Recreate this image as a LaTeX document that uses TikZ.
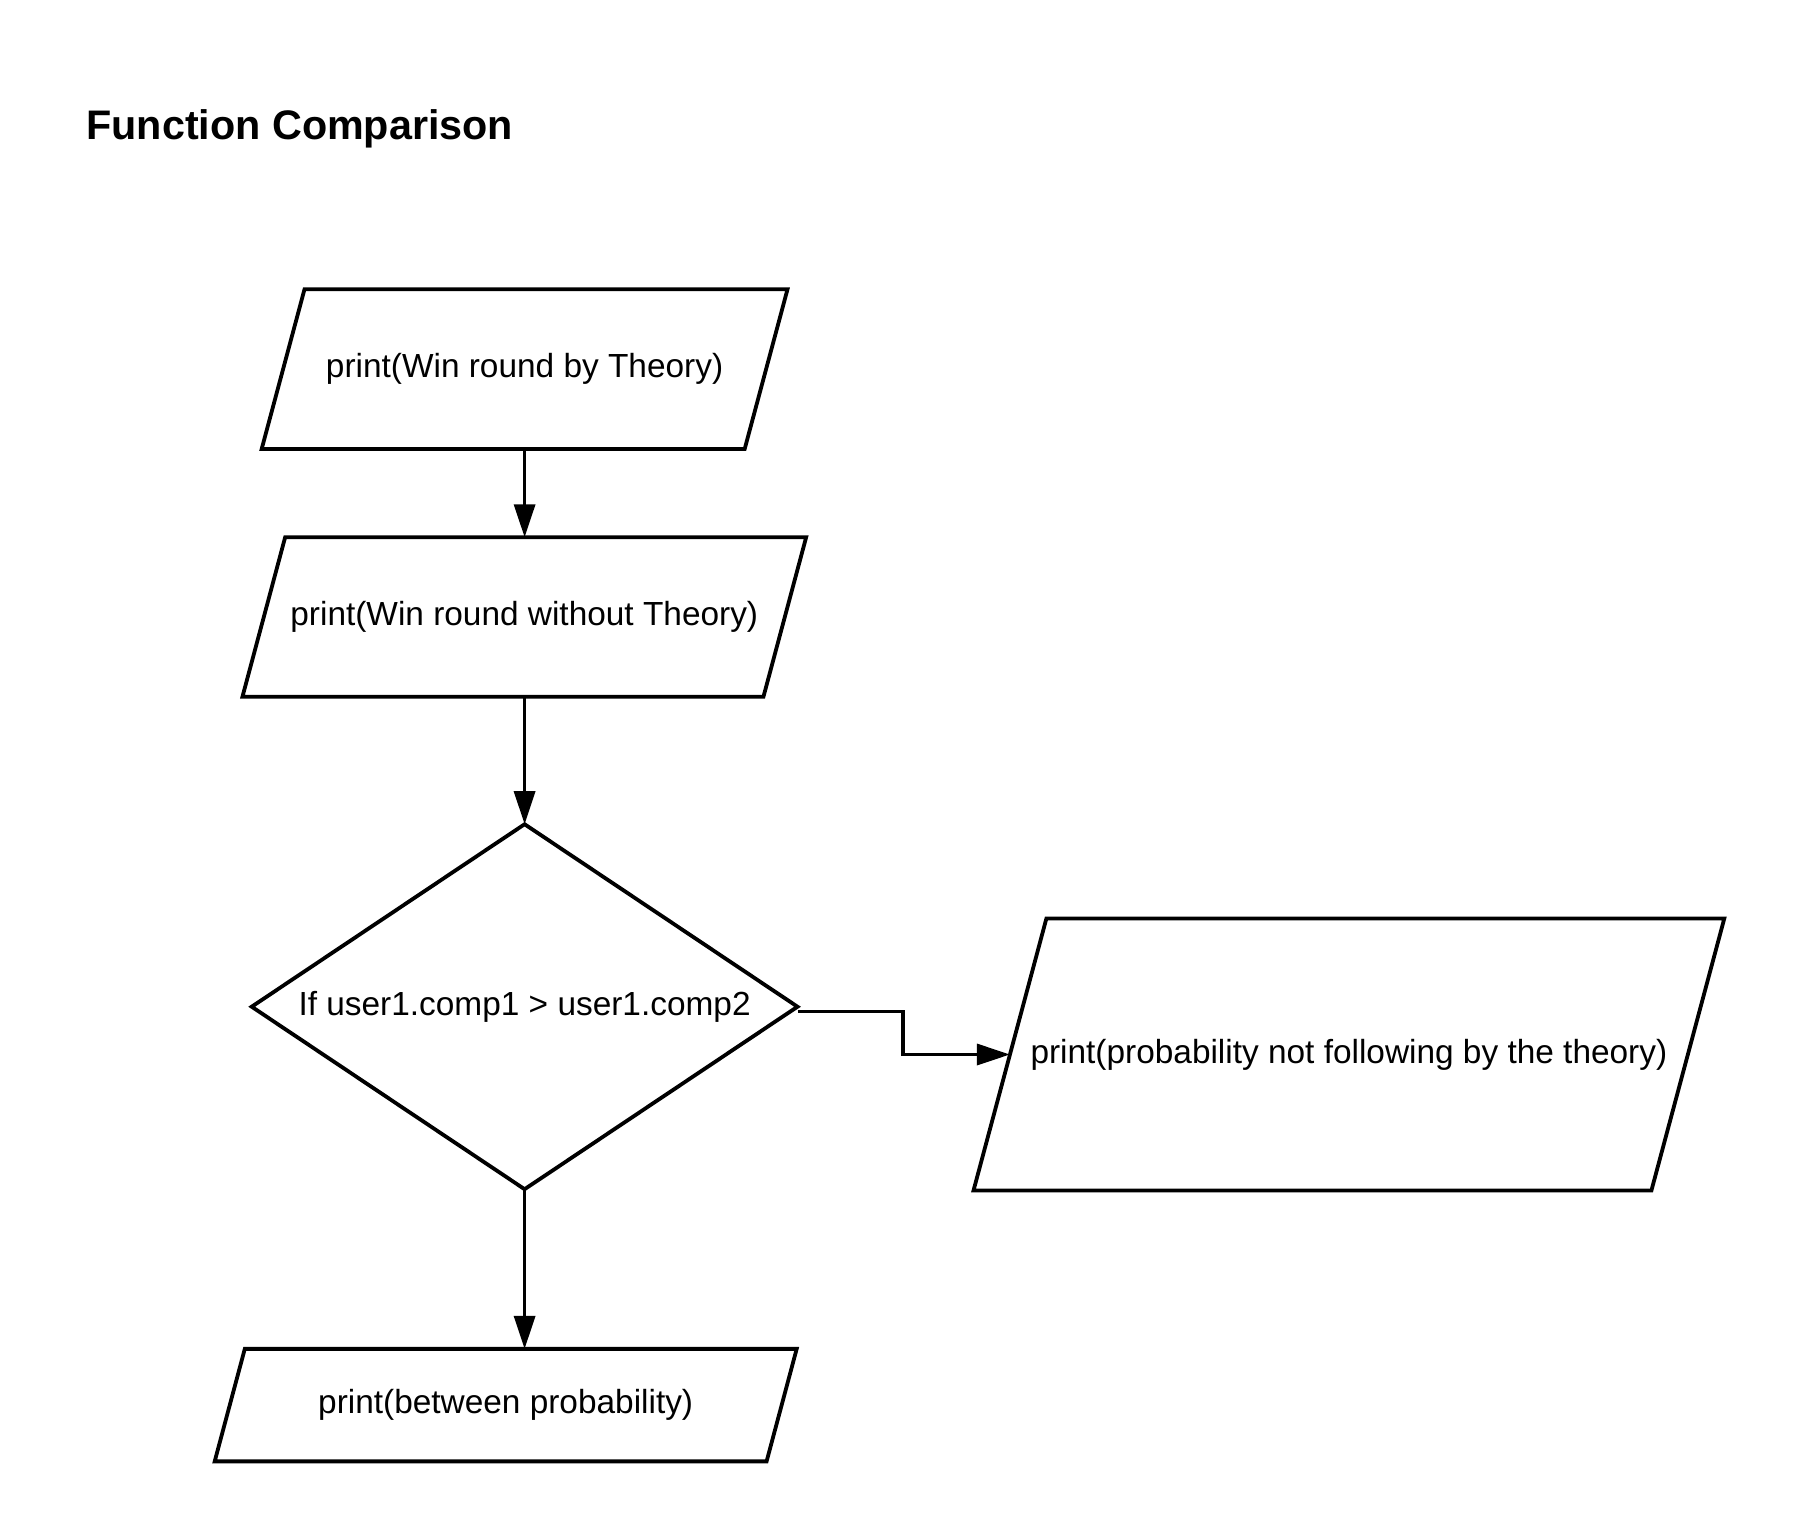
\documentclass[tikz,border=0pt]{standalone}
\usepackage{fontspec}
\setmainfont{Liberation Sans}
\usetikzlibrary{arrows.meta,shapes.geometric}
\begin{document}
\begin{tikzpicture}[x=0.5pt,y=-0.5pt,
  shapeline/.style={draw=black,line width=1.9pt,line join=miter},
  iobox/.style={rectangle,inner sep=0pt,outer sep=0pt,draw=none,
    font=\fontsize{16.7pt}{20pt}\selectfont},
  decision/.style={diamond,aspect=1.495,draw=black,line width=1.9pt,inner sep=0pt,outer sep=0pt,
    minimum width=272.9pt,minimum height=182.5pt,
    font=\fontsize{16.7pt}{20pt}\selectfont},
  conn/.style={draw=black,line width=1.7pt,-{Triangle[length=16.5pt,width=10.5pt]}},
  titletext/.style={anchor=base west,inner sep=0pt,
    font=\bfseries\fontsize{20.65pt}{24pt}\selectfont}]
\fill[white] (0,0) rectangle (1800,1538);
\useasboundingbox (0,0) rectangle (1800,1538);

\node[titletext] (title) at (86,139) {Function Comparison};

\node[iobox,minimum width=262.9pt,minimum height=79.8pt] (p1) at (524.6,369.1) {print(Win round by Theory)};
\node[iobox,minimum width=281.85pt,minimum height=79.75pt] (p2) at (524.3,617) {print(Win round without Theory)};
\node[iobox,minimum width=375.4pt,minimum height=136.05pt] (p3) at (1348.9,1054.5) {print(probability not following by the theory)};
\node[iobox,minimum width=291pt,minimum height=56.25pt] (p4) at (505.7,1405.1) {print(between probability)};

\foreach \s/\o in {p1/42.8,p2/42.7,p3/72.9,p4/30.1}
  \draw[shapeline] (\s.south west) -- ([xshift=\o*0.5pt]\s.north west) -- (\s.north east) -- ([xshift=-\o*0.5pt]\s.south east) -- cycle;

\node[decision] (d) at (524.6,1006.7) {If user1.comp1 > user1.comp2};

\coordinate (p3in) at ([xshift=18.2pt]p3.west);

\draw[conn] (p1.south) -- (p1.south |- p2.north);
\draw[conn] (p2.south -| d.north) -- (d.north);
\draw[conn] (d.south) -- (d.south |- p4.north);
\draw[conn] ([yshift=-2.5pt]d.east) -- ++(105.6,0) |- (p3in);
\end{tikzpicture}
\end{document}
